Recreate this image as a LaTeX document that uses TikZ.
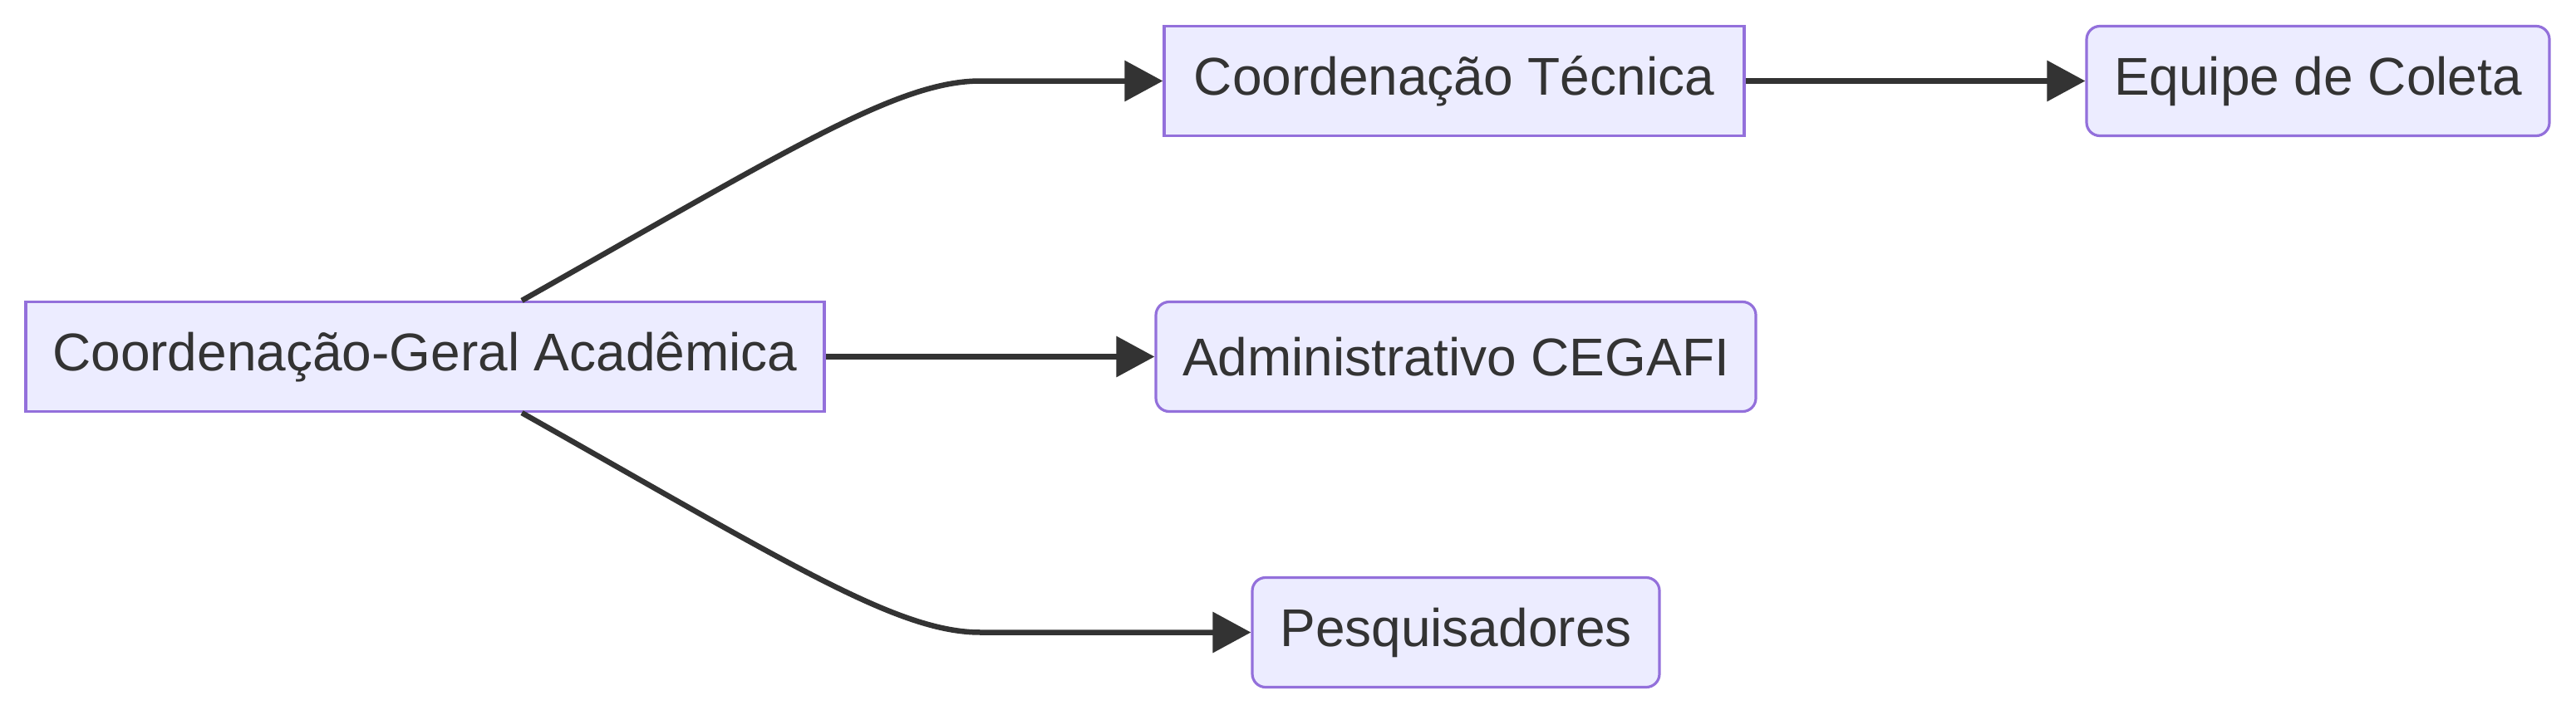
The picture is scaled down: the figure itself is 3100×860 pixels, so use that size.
\documentclass[tikz,border=0pt]{standalone}
\usepackage{fontspec}
\setmainfont{Liberation Sans}
\usetikzlibrary{arrows.meta}
\definecolor{nodefill}{HTML}{ECECFF}
\definecolor{nodeline}{HTML}{9370DB}
\definecolor{ink}{HTML}{333333}
\tikzset{
  box/.style={draw=nodeline, fill=nodefill, line width=3.2pt, text=ink,
    minimum height=132pt, inner sep=0pt,
    font=\fontsize{64pt}{76pt}\selectfont},
  rbox/.style={box, rounded corners=16pt},
  link/.style={draw=ink, line width=6.5pt, -{Triangle[length=46pt,width=48pt]}}
}
\begin{document}
\begin{tikzpicture}[x=1pt,y=-1pt]
\useasboundingbox (0,0) rectangle (3100,860);
\node[box, minimum width=961pt] (A) at (511.5,429.5) {Coordenação-Geral Acadêmica};
\node[box, minimum width=698pt] (B) at (1750,97.5) {Coordenação Técnica};
\node[rbox, minimum width=557pt] (C) at (2789.5,97.5) {Equipe de Coleta};
\node[rbox, minimum width=722pt] (D) at (1752,429.5) {Administrativo CEGAFI};
\node[rbox, minimum width=490pt] (E) at (1752,761.5) {Pesquisadores};
\coordinate (Atop) at ([xshift=116.5pt]A.north);
\coordinate (Abot) at ([xshift=116.5pt]A.south);
\draw[link] (Atop) .. controls (950,180) and (1080,97.5) .. (1180,97.5) -- (B.west);
\draw[link] (Abot) .. controls (950,679) and (1080,761.5) .. (1180,761.5) -- (E.west);
\draw[link] (A.east) -- (D.west);
\draw[link] (B.east) -- (C.west);
\end{tikzpicture}
\end{document}
